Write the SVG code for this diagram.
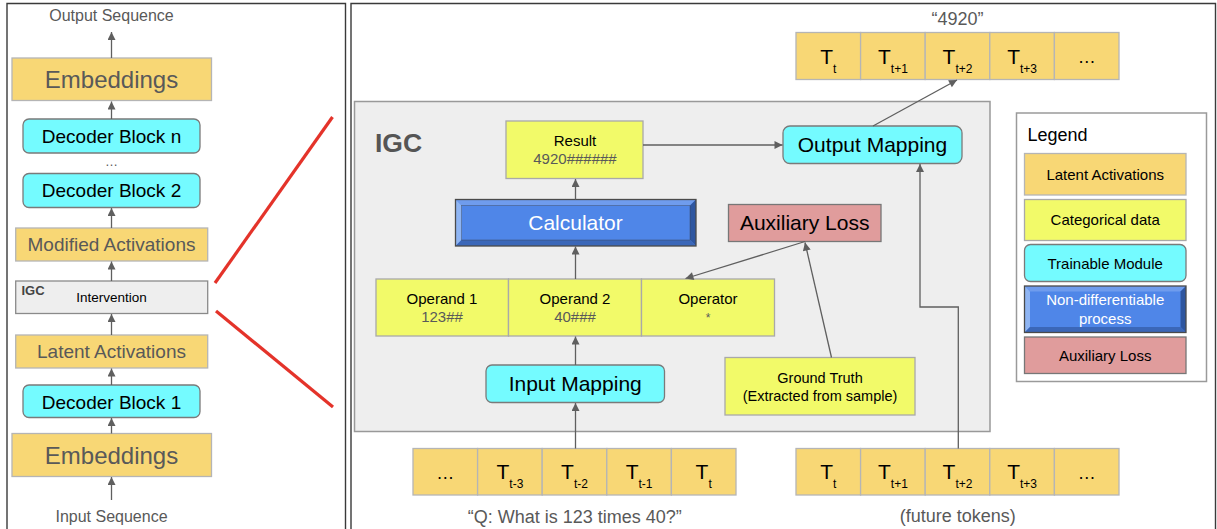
<svg xmlns="http://www.w3.org/2000/svg" width="1217" height="529" viewBox="0 0 1217 529">
<defs>
<marker id="ah" viewBox="0 0 10 10" refX="10" refY="5" markerWidth="9" markerHeight="8" markerUnits="userSpaceOnUse" orient="auto"><path d="M0,0 L10,5 L0,10 z" fill="#5f5f5f"/></marker>
</defs>
<style>
text{font-family:"Liberation Sans",Arial,sans-serif}
.lat{fill:#f8d775;stroke:#b5b5b5;stroke-width:1.3}
.cat{fill:#f2fa69;stroke:#a9a9a9;stroke-width:1.3}
.trn{fill:#74fbff;stroke:#7a7a7a;stroke-width:1.3}
.aux{fill:#e09c9c;stroke:#777;stroke-width:1.3}
.gry{fill:#595959}
.blk{fill:#000}
.mid{text-anchor:middle}
.conn{fill:none;stroke:#5f5f5f;stroke-width:1.3}
.arr{marker-end:url(#ah)}
.red{stroke:#e4332a;stroke-width:3.2;fill:none}
</style>
<rect width="1217" height="529" fill="#fff"/>
<!-- panels -->
<path d="M7,535 V3.5 H345.5 V535" fill="none" stroke="#3a3a3a" stroke-width="1.4"/>
<path d="M351,535 V3.5 H1215.5 V535" fill="none" stroke="#3a3a3a" stroke-width="1.4"/>

<!-- left column -->
<text class="gry mid" x="111.5" y="21" font-size="16">Output Sequence</text>
<g id="emb-top"><rect class="lat" x="12" y="58" width="199.5" height="42.5"/><text class="gry mid" x="111.5" y="88" font-size="24">Embeddings</text></g>
<g id="dec-n"><rect class="trn" x="23" y="119" width="177" height="34" rx="6"/><text class="blk mid" x="111.5" y="143" font-size="19">Decoder Block n</text></g>
<text class="gry mid" x="111.5" y="166" font-size="13">…</text>
<g id="dec-2"><rect class="trn" x="23" y="173.5" width="177" height="34" rx="6"/><text class="blk mid" x="111.5" y="197" font-size="19">Decoder Block 2</text></g>
<g id="mod-act"><rect class="lat" x="15.7" y="228" width="192" height="33"/><text class="gry mid" x="111.5" y="251" font-size="19">Modified Activations</text></g>
<g id="intervention"><rect x="15.7" y="281" width="192" height="32.5" fill="#eeeeee" stroke="#8a8a8a" stroke-width="1.3"/><text x="21.5" y="295" font-size="13" font-weight="bold" fill="#444">IGC</text><text class="blk mid" x="111.5" y="301.5" font-size="13.5">Intervention</text></g>
<g id="lat-act"><rect class="lat" x="15.7" y="335" width="192" height="33"/><text class="gry mid" x="111.5" y="358" font-size="19">Latent Activations</text></g>
<g id="dec-1"><rect class="trn" x="23" y="385" width="177" height="32.5" rx="6"/><text class="blk mid" x="111.5" y="408.5" font-size="19">Decoder Block 1</text></g>
<g id="emb-bot"><rect class="lat" x="12" y="433.5" width="199.5" height="43"/><text class="gry mid" x="111.5" y="464" font-size="24">Embeddings</text></g>
<text class="gry mid" x="111.5" y="522" font-size="16">Input Sequence</text>

<!-- red zoom lines -->
<line class="red" x1="332.5" y1="117" x2="215" y2="283"/>
<line class="red" x1="216" y1="311" x2="333" y2="407"/>

<!-- IGC box -->
<g id="igc"><rect x="354.5" y="101.5" width="635.5" height="330" fill="#eeeeee" stroke="#999" stroke-width="1.5"/><text x="375" y="152" font-size="26.5" font-weight="bold" fill="#555">IGC</text></g>

<g id="result"><rect class="cat" x="506" y="121" width="137" height="57.5"/><text class="blk mid" x="575" y="146" font-size="15">Result</text><text class="gry mid" x="575" y="164" font-size="15">4920######</text></g>

<g id="calculator">
<rect x="455.5" y="199.5" width="240.5" height="46.5" fill="#4f86e8"/>
<polygon points="455.5,199.5 696,199.5 690,205.5 461.5,205.5" fill="#6f9ced"/>
<polygon points="455.5,199.5 461.5,205.5 461.5,240 455.5,246" fill="#8fb5f3"/>
<polygon points="696,199.5 696,246 690,240 690,205.5" fill="#2e56a0"/>
<polygon points="455.5,246 696,246 690,240 461.5,240" fill="#3b67b8"/>
<rect x="461.5" y="205.5" width="228.5" height="34.5" fill="none" stroke="#3b3b3b" stroke-width="0.6" opacity="0.6"/>
<rect x="455.5" y="199.5" width="240.5" height="46.5" fill="none" stroke="#4a4a4a" stroke-width="1.3"/>
<text class="mid" x="575.5" y="230" font-size="21" fill="#fff">Calculator</text>
</g>

<g id="aux-loss"><rect class="aux" x="728.5" y="204.5" width="152.5" height="37"/><text class="blk mid" x="804.7" y="230" font-size="21">Auxiliary Loss</text></g>

<g id="operands">
<rect class="cat" x="376" y="279" width="132.5" height="57"/>
<rect class="cat" x="508.5" y="279" width="133" height="57"/>
<rect class="cat" x="641.5" y="279" width="133" height="57"/>
<text class="blk mid" x="442" y="304" font-size="15">Operand 1</text><text class="gry mid" x="442" y="322" font-size="15">123##</text>
<text class="blk mid" x="575" y="304" font-size="15">Operand 2</text><text class="gry mid" x="575" y="322" font-size="15">40###</text>
<text class="blk mid" x="708" y="304" font-size="15">Operator</text><text class="gry mid" x="708" y="322" font-size="12">*</text>
</g>

<g id="input-mapping"><rect class="trn" x="486" y="365" width="178.5" height="37.5" rx="6"/><text class="blk mid" x="575.2" y="390.5" font-size="21">Input Mapping</text></g>

<g id="ground-truth"><rect class="cat" x="725" y="357.5" width="190" height="57.5"/><text class="blk mid" x="820" y="382.5" font-size="14.5">Ground Truth</text><text class="blk mid" x="820" y="401" font-size="14.5">(Extracted from sample)</text></g>

<g id="output-mapping"><rect class="trn" x="783" y="126" width="179" height="37.5" rx="7"/><text class="blk mid" x="872.5" y="152" font-size="21">Output Mapping</text></g>

<!-- top tokens -->
<g id="tokens-out">
<text class="gry mid" x="957.5" y="25" font-size="18">“4920”</text>
<rect class="lat" x="796" y="32.5" width="64.6" height="47"/><rect class="lat" x="860.6" y="32.5" width="64.6" height="47"/><rect class="lat" x="925.2" y="32.5" width="64.6" height="47"/><rect class="lat" x="989.8" y="32.5" width="64.6" height="47"/><rect class="lat" x="1054.4" y="32.5" width="64.6" height="47"/>
<text class="blk mid" x="828.3" y="63.5" font-size="21">T<tspan font-size="12" dy="9">t</tspan></text>
<text class="blk mid" x="892.9" y="63.5" font-size="21">T<tspan font-size="12" dy="9">t+1</tspan></text>
<text class="blk mid" x="957.5" y="63.5" font-size="21">T<tspan font-size="12" dy="9">t+2</tspan></text>
<text class="blk mid" x="1022.1" y="63.5" font-size="21">T<tspan font-size="12" dy="9">t+3</tspan></text>
<text class="blk mid" x="1086.7" y="63" font-size="18">…</text>
</g>

<!-- bottom-left tokens -->
<g id="tokens-in">
<rect class="lat" x="413" y="448.5" width="64.6" height="46.5"/><rect class="lat" x="477.6" y="448.5" width="64.6" height="46.5"/><rect class="lat" x="542.2" y="448.5" width="64.6" height="46.5"/><rect class="lat" x="606.8" y="448.5" width="64.6" height="46.5"/><rect class="lat" x="671.4" y="448.5" width="64.6" height="46.5"/>
<text class="blk mid" x="445.3" y="479" font-size="18">…</text>
<text class="blk mid" x="509.9" y="478.5" font-size="21">T<tspan font-size="12" dy="9">t-3</tspan></text>
<text class="blk mid" x="574.5" y="478.5" font-size="21">T<tspan font-size="12" dy="9">t-2</tspan></text>
<text class="blk mid" x="639.1" y="478.5" font-size="21">T<tspan font-size="12" dy="9">t-1</tspan></text>
<text class="blk mid" x="703.7" y="478.5" font-size="21">T<tspan font-size="12" dy="9">t</tspan></text>
<text class="gry mid" x="574.7" y="523" font-size="18">“Q: What is 123 times 40?”</text>
</g>

<!-- bottom-right tokens -->
<g id="tokens-future">
<rect class="lat" x="796" y="448.5" width="64.6" height="46.5"/><rect class="lat" x="860.6" y="448.5" width="64.6" height="46.5"/><rect class="lat" x="925.2" y="448.5" width="64.6" height="46.5"/><rect class="lat" x="989.8" y="448.5" width="64.6" height="46.5"/><rect class="lat" x="1054.4" y="448.5" width="64.6" height="46.5"/>
<text class="blk mid" x="828.3" y="478.5" font-size="21">T<tspan font-size="12" dy="9">t</tspan></text>
<text class="blk mid" x="892.9" y="478.5" font-size="21">T<tspan font-size="12" dy="9">t+1</tspan></text>
<text class="blk mid" x="957.5" y="478.5" font-size="21">T<tspan font-size="12" dy="9">t+2</tspan></text>
<text class="blk mid" x="1022.1" y="478.5" font-size="21">T<tspan font-size="12" dy="9">t+3</tspan></text>
<text class="blk mid" x="1086.7" y="479" font-size="18">…</text>
<text class="gry mid" x="957.7" y="521.5" font-size="18">(future tokens)</text>
</g>

<!-- legend -->
<g id="legend">
<rect x="1016.5" y="113" width="190" height="268.5" fill="#fff" stroke="#9a9a9a" stroke-width="1.5"/>
<text class="blk" x="1027.5" y="141" font-size="18">Legend</text>
<rect class="lat" x="1024.5" y="153.5" width="161.5" height="41.5"/><text class="blk mid" x="1105.2" y="180" font-size="15">Latent Activations</text>
<rect class="cat" x="1024.5" y="199.5" width="161.5" height="41"/><text class="blk mid" x="1105.2" y="225" font-size="15">Categorical data</text>
<rect class="trn" x="1024.5" y="244.5" width="161.5" height="37" rx="6"/><text class="blk mid" x="1105.2" y="268.5" font-size="15">Trainable Module</text>
<rect x="1024.5" y="286" width="161.5" height="46.5" fill="#4f86e8"/>
<polygon points="1024.5,286 1186,286 1180.5,291.5 1030,291.5" fill="#6f9ced"/>
<polygon points="1024.5,286 1030,291.5 1030,327 1024.5,332.5" fill="#8fb5f3"/>
<polygon points="1186,286 1186,332.5 1180.5,327 1180.5,291.5" fill="#2e56a0"/>
<polygon points="1024.5,332.5 1186,332.5 1180.5,327 1030,327" fill="#3b67b8"/>
<rect x="1024.5" y="286" width="161.5" height="46.5" fill="none" stroke="#4a4a4a" stroke-width="1.3"/>
<text class="mid" x="1105.2" y="305" font-size="15" fill="#fff">Non-differentiable</text><text class="mid" x="1105.2" y="323.5" font-size="15" fill="#fff">process</text>
<rect class="aux" x="1024.5" y="337" width="161.5" height="36.5"/><text class="blk mid" x="1105.2" y="360.5" font-size="15">Auxiliary Loss</text>
</g>

<!-- connectors -->
<g id="connectors">
<line class="conn arr" x1="111.5" y1="58" x2="111.5" y2="32"/>
<line class="conn arr" x1="111.5" y1="119" x2="111.5" y2="101.5"/>
<line class="conn arr" x1="111.5" y1="228" x2="111.5" y2="208"/>
<line class="conn arr" x1="111.5" y1="281" x2="111.5" y2="261.5"/>
<line class="conn arr" x1="111.5" y1="335" x2="111.5" y2="314"/>
<line class="conn arr" x1="111.5" y1="385" x2="111.5" y2="368.5"/>
<line class="conn arr" x1="111.5" y1="433.5" x2="111.5" y2="418"/>
<line class="conn arr" x1="111.5" y1="500" x2="111.5" y2="477"/>
<line class="conn arr" x1="575.5" y1="199.5" x2="575.5" y2="179"/>
<line class="conn arr" x1="575.5" y1="279" x2="575.5" y2="246.5"/>
<line class="conn arr" x1="575.5" y1="365" x2="575.5" y2="336.5"/>
<line class="conn arr" x1="575.5" y1="448.5" x2="575.5" y2="403"/>
<line class="conn arr" x1="643" y1="145" x2="782.5" y2="145"/>
<line class="conn arr" x1="873" y1="126" x2="957" y2="80"/>
<line class="conn arr" x1="831.5" y1="357.5" x2="805" y2="242.5"/>
<line class="conn arr" x1="805" y1="241.5" x2="685.5" y2="278.5"/>
<path class="conn arr" d="M958.3,448.5 V307 H920 V164"/>
</g>
</svg>
